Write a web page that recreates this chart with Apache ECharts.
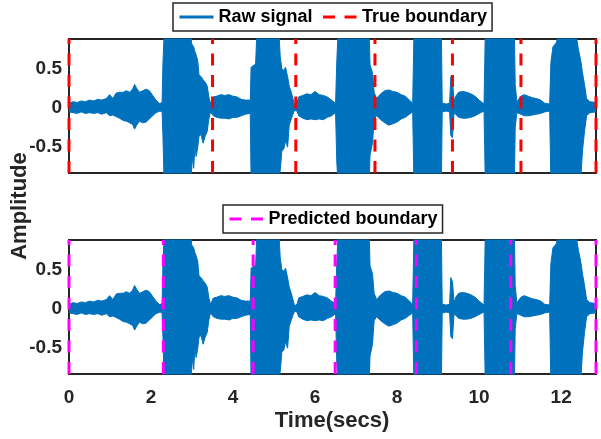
<!DOCTYPE html>
<html>
<head>
<meta charset="UTF-8">
<script src="https://cdn.jsdelivr.net/npm/echarts@6/dist/echarts.min.js"></script>
<style>
  html, body { margin: 0; padding: 0; background: #fff; }
  #chart { width: 601px; height: 439px; }
</style>
</head>
<body>
<div id="chart"></div>
<script type="text/javascript">
// signal envelope (upper / lower edge of the waveform)
var times = [
  0.00, 0.10, 0.20, 0.30, 0.40, 0.50, 0.60, 0.70, 0.80, 0.91,
  0.99, 1.07, 1.15, 1.23, 1.32, 1.40, 1.48, 1.55, 1.60, 1.65,
  1.72, 1.80, 1.88, 1.96, 2.04, 2.12, 2.22, 2.27, 2.29, 2.32,
  2.97, 2.99, 3.02, 3.04, 3.07, 3.10, 3.14, 3.17, 3.22, 3.27,
  3.32, 3.37, 3.41, 3.45, 3.52, 3.60, 3.70, 3.80, 3.90, 4.00,
  4.10, 4.20, 4.30, 4.42, 4.44, 4.55, 4.58, 5.12, 5.15, 5.19,
  5.24, 5.28, 5.33, 5.37, 5.42, 5.46, 5.50, 5.56, 5.60, 5.70,
  5.80, 5.90, 6.00, 6.10, 6.20, 6.30, 6.40, 6.50, 6.53, 6.56,
  7.32, 7.34, 7.40, 7.44, 7.50, 7.60, 7.70, 7.80, 7.90, 8.00,
  8.10, 8.20, 8.30, 8.38, 8.41, 9.08, 9.10, 9.20, 9.28, 9.31,
  9.35, 9.39, 9.43, 9.50, 9.60, 9.70, 9.80, 9.90, 10.00, 10.12,
  10.15, 10.86, 10.88, 10.92, 11.02, 11.10, 11.20, 11.30, 11.40, 11.50,
  11.60, 11.72, 11.75, 11.80, 11.88, 11.94, 12.36, 12.42, 12.48, 12.52,
  12.57, 12.62, 12.70, 12.85
];
var upper = [
  0.06, 0.08, 0.07, 0.09, 0.08, 0.10, 0.09, 0.11, 0.10, 0.12,
  0.17, 0.12, 0.19, 0.20, 0.20, 0.22, 0.20, 0.24, 0.30, 0.25,
  0.20, 0.22, 0.24, 0.22, 0.16, 0.10, 0.05, 0.08, 0.56, 0.95,
  0.95, 0.82, 0.80, 0.78, 0.72, 0.68, 0.60, 0.42, 0.40, 0.36,
  0.33, 0.28, 0.14, 0.06, 0.14, 0.15, 0.17, 0.16, 0.17, 0.15,
  0.14, 0.11, 0.10, 0.10, 0.52, 0.56, 0.95, 0.95, 0.66, 0.50,
  0.48, 0.52, 0.40, 0.28, 0.20, 0.12, 0.04, 0.06, 0.14, 0.16,
  0.18, 0.17, 0.21, 0.17, 0.16, 0.14, 0.10, 0.06, 0.60, 0.95,
  0.95, 0.55, 0.45, 0.20, 0.12, 0.18, 0.22, 0.23, 0.21, 0.20,
  0.17, 0.15, 0.10, 0.06, 0.95, 0.95, 0.06, 0.05, 0.06, 0.40,
  0.35, 0.08, 0.15, 0.20, 0.21, 0.20, 0.18, 0.15, 0.10, 0.05,
  0.95, 0.95, 0.30, 0.08, 0.15, 0.17, 0.15, 0.13, 0.12, 0.10,
  0.06, 0.05, 0.58, 0.78, 0.83, 0.95, 0.95, 0.75, 0.60, 0.45,
  0.30, 0.12, 0.08, 0.07
];
var lower = [
  -0.05, -0.06, -0.07, -0.05, -0.07, -0.06, -0.07, -0.06, -0.08, -0.06,
  -0.10, -0.09, -0.11, -0.13, -0.16, -0.17, -0.19, -0.21, -0.27, -0.22,
  -0.17, -0.19, -0.18, -0.14, -0.10, -0.06, -0.04, -0.05, -0.35, -0.95,
  -0.95, -0.78, -0.60, -0.77, -0.50, -0.62, -0.50, -0.36, -0.34, -0.45,
  -0.36, -0.30, -0.14, -0.05, -0.10, -0.12, -0.13, -0.13, -0.14, -0.12,
  -0.12, -0.10, -0.08, -0.07, -0.95, -0.95, -0.95, -0.95, -0.80, -0.55,
  -0.52, -0.42, -0.50, -0.22, -0.14, -0.08, -0.03, -0.04, -0.10, -0.13,
  -0.15, -0.14, -0.15, -0.14, -0.15, -0.12, -0.10, -0.06, -0.70, -0.95,
  -0.95, -0.60, -0.45, -0.15, -0.10, -0.15, -0.19, -0.22, -0.20, -0.18,
  -0.14, -0.12, -0.08, -0.05, -0.95, -0.95, -0.05, -0.04, -0.05, -0.35,
  -0.38, -0.06, -0.08, -0.12, -0.13, -0.13, -0.12, -0.10, -0.07, -0.04,
  -0.95, -0.95, -0.25, -0.06, -0.08, -0.10, -0.10, -0.09, -0.08, -0.07,
  -0.05, -0.04, -0.95, -0.95, -0.95, -0.95, -0.95, -0.95, -0.90, -0.55,
  -0.30, -0.10, -0.06, -0.05
];

var trueBoundary = [0, 3.50, 5.53, 7.46, 9.35, 11.02, 12.85];
var predBoundary = [0, 2.30, 4.49, 6.49, 8.47, 10.77, 12.85];

var xTicks = [0, 2, 4, 6, 8, 10, 12];
var yTicks = [-0.5, 0, 0.5];

var xMax = 12.85, yMin = -0.83, yMax = 0.88;
var blue = '#0072BD', axisCol = '#262626';
var font = 'Liberation Sans';
var noDot = {color: 'rgba(0,0,0,0)', borderColor: 'rgba(0,0,0,0)', borderWidth: 0};

// the waveform is filled from 0 up to the upper edge and from 0 down to the lower edge
var upperData = times.map(function (t, i) { return [t, upper[i]]; });
var lowerData = times.map(function (t, i) { return [t, lower[i]]; });

function vlines(xs) {
    var d = [];
    xs.forEach(function (x) {
        d.push([x, yMin], [x, yMax], [x, '-']);
    });
    return d;
}

function xAxisCfg(idx, labels) {
    return {
        type: 'value', gridIndex: idx, min: 0, max: xMax,
        axisLine: {show: false}, axisTick: {show: false}, splitLine: {show: false},
        axisLabel: {
            show: labels, customValues: xTicks, margin: 14,
            fontFamily: font, fontWeight: 'bold', fontSize: 19, color: axisCol
        }
    };
}
function yAxisCfg(idx) {
    return {
        type: 'value', gridIndex: idx, min: yMin, max: yMax,
        axisLine: {show: false}, axisTick: {show: false}, splitLine: {show: false},
        axisLabel: {
            customValues: yTicks, margin: 7,
            fontFamily: font, fontWeight: 'bold', fontSize: 19, color: axisCol
        }
    };
}
function legendCfg(left, top, items) {
    return {
        left: left, top: top, orient: 'horizontal', selectedMode: false,
        itemWidth: 34, itemHeight: 14, itemGap: 9, padding: [5, 5, 5, 5],
        borderColor: axisCol, borderWidth: 1.5, backgroundColor: '#fff',
        lineStyle: {width: 3},
        textStyle: {fontFamily: font, fontWeight: 'bold', fontSize: 18, color: '#000'},
        data: items.map(function (n) { return {name: n, itemStyle: noDot}; })
    };
}
function bandSeries(idx) {
    return [upperData, lowerData].map(function (d) {
        return {
            name: 'Raw signal', type: 'line', xAxisIndex: idx, yAxisIndex: idx,
            symbol: 'none', silent: true,
            itemStyle: {color: blue},
            lineStyle: {color: blue, width: 1},
            areaStyle: {color: blue, opacity: 1, origin: 0},
            data: d
        };
    });
}
function boundarySeries(idx, name, color, xs) {
    return {
        name: name, type: 'line', xAxisIndex: idx, yAxisIndex: idx,
        symbol: 'none', silent: true, clip: false, z: 5,
        itemStyle: {color: color},
        lineStyle: {color: color, width: 3, type: [12, 9.5]},
        data: vlines(xs)
    };
}

var option = {
    animation: false,
    grid: [
        {left: 69, top: 39, width: 527, height: 134, show: true, borderColor: axisCol, borderWidth: 2},
        {left: 69, top: 240, width: 527, height: 134, show: true, borderColor: axisCol, borderWidth: 2}
    ],
    xAxis: [xAxisCfg(0, false), xAxisCfg(1, true)],
    yAxis: [yAxisCfg(0), yAxisCfg(1)],
    legend: [
        legendCfg(173, 3, ['Raw signal', 'True boundary']),
        legendCfg(223, 205, ['Predicted boundary'])
    ],
    graphic: [
        {type: 'text', x: 20, y: 206, rotation: Math.PI / 2,
         style: {text: 'Amplitude', font: 'bold 22px ' + font, fill: axisCol, textAlign: 'center', textVerticalAlign: 'middle'}},
        {type: 'text', x: 332, y: 421,
         style: {text: 'Time(secs)', font: 'bold 22px ' + font, fill: axisCol, textAlign: 'center', textVerticalAlign: 'middle'}}
    ],
    series: [].concat(
        bandSeries(0),
        [boundarySeries(0, 'True boundary', '#FF0000', trueBoundary)],
        bandSeries(1),
        [boundarySeries(1, 'Predicted boundary', '#FF00FF', predBoundary)]
    )
};

var myChart = echarts.init(document.getElementById('chart'));
myChart.setOption(option);
</script>
</body>
</html>
